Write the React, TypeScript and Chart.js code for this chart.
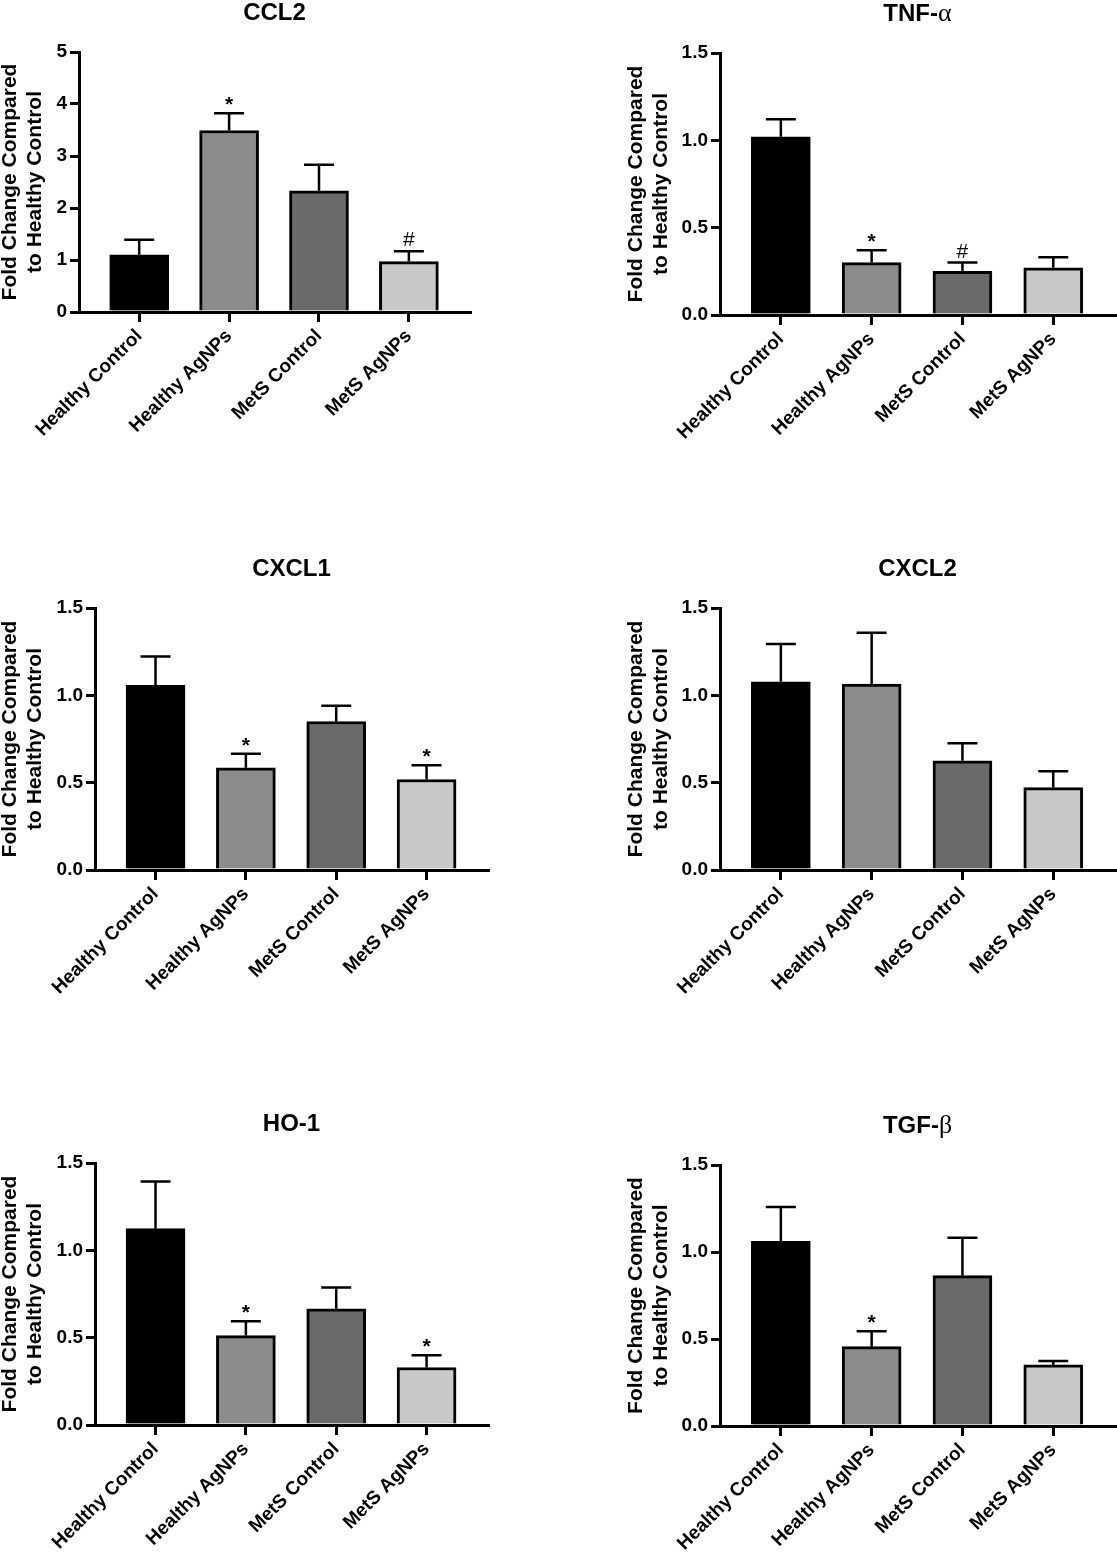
import React, { useEffect, useRef } from 'react';
import { Chart, registerables } from 'chart.js';

Chart.register(...registerables);

// ---------- data ----------
const categories = ['Healthy Control', 'Healthy AgNPs', 'MetS Control', 'MetS AgNPs'];
const barColors = ['#000000', '#8c8c8c', '#6a6a6a', '#c8c8c8'];
const yAxisTitle = ['Fold Change Compared', 'to Healthy Control'];

const intTicks = [0, 1, 2, 3, 4, 5];
const intTickLabels = ['0', '1', '2', '3', '4', '5'];
const fracTicks = [0, 0.5, 1.0, 1.5];
const fracTickLabels = ['0.0', '0.5', '1.0', '1.5'];

const ccl2Mean = [1.1, 3.49, 2.33, 0.97];
const ccl2Sem = [0.29, 0.33, 0.5, 0.2];
const ccl2Marks = ['', '*', '', '#'];

const tnfMean = [1.02, 0.3, 0.25, 0.27];
const tnfSem = [0.1, 0.07, 0.05, 0.06];
const tnfMarks = ['', '*', '#', ''];

const cxcl1Mean = [1.057, 0.585, 0.85, 0.518];
const cxcl1Sem = [0.165, 0.08, 0.09, 0.082];
const cxcl1Marks = ['', '*', '', '*'];

const cxcl2Mean = [1.078, 1.064, 0.625, 0.472];
const cxcl2Sem = [0.216, 0.295, 0.1, 0.094];
const cxcl2Marks = ['', '', '', ''];

const ho1Mean = [1.124, 0.512, 0.665, 0.329];
const ho1Sem = [0.27, 0.082, 0.122, 0.071];
const ho1Marks = ['', '*', '', '*'];

const tgfMean = [1.061, 0.456, 0.864, 0.351];
const tgfSem = [0.198, 0.088, 0.218, 0.023];
const tgfMarks = ['', '*', '', ''];

// ---------- layout (page coordinates) ----------
type Box = {
  left: number; top: number; width: number; height: number;
  plotLeft: number; plotRight: number; plotTop: number; plotBottom: number;
};

type Panel = {
  title: string; mean: number[]; sem: number[]; marks: string[];
  ticks: number[]; tickLabels: string[]; box: Box;
};

const panels: Panel[] = [
  { title: 'CCL2', mean: ccl2Mean, sem: ccl2Sem, marks: ccl2Marks, ticks: intTicks, tickLabels: intTickLabels,
    box: { left: -3, top: 0, width: 500, height: 470, plotLeft: 79, plotRight: 470, plotTop: 52, plotBottom: 312 } },
  { title: 'TNF-α', mean: tnfMean, sem: tnfSem, marks: tnfMarks, ticks: fracTicks, tickLabels: fracTickLabels,
    box: { left: 623, top: 0, width: 494, height: 470, plotLeft: 720, plotRight: 1115, plotTop: 53, plotBottom: 315 } },
  { title: 'CXCL1', mean: cxcl1Mean, sem: cxcl1Sem, marks: cxcl1Marks, ticks: fracTicks, tickLabels: fracTickLabels,
    box: { left: -3, top: 540, width: 500, height: 480, plotLeft: 95, plotRight: 488, plotTop: 608, plotBottom: 870 } },
  { title: 'CXCL2', mean: cxcl2Mean, sem: cxcl2Sem, marks: cxcl2Marks, ticks: fracTicks, tickLabels: fracTickLabels,
    box: { left: 623, top: 540, width: 494, height: 480, plotLeft: 720, plotRight: 1115, plotTop: 608, plotBottom: 870 } },
  { title: 'HO-1', mean: ho1Mean, sem: ho1Sem, marks: ho1Marks, ticks: fracTicks, tickLabels: fracTickLabels,
    box: { left: -3, top: 1090, width: 500, height: 469, plotLeft: 95, plotRight: 488, plotTop: 1163, plotBottom: 1425 } },
  { title: 'TGF-β', mean: tgfMean, sem: tgfSem, marks: tgfMarks, ticks: fracTicks, tickLabels: fracTickLabels,
    box: { left: 623, top: 1090, width: 494, height: 469, plotLeft: 720, plotRight: 1115, plotTop: 1165, plotBottom: 1426 } },
];

const FONT = '"Liberation Sans", Arial, sans-serif';

function drawMixedTitle(ctx: CanvasRenderingContext2D, text: string, cx: number, cy: number) {
  const sans = `bold 24px ${FONT}`;
  const greek = `26px "Liberation Serif", serif`;
  const runs: { t: string; f: string }[] = [];
  for (const ch of text) {
    const f = /[\u0370-\u03FF]/.test(ch) ? greek : sans;
    if (runs.length && runs[runs.length - 1].f === f) runs[runs.length - 1].t += ch;
    else runs.push({ t: ch, f });
  }
  let total = 0;
  const widths = runs.map((r) => { ctx.font = r.f; const w = ctx.measureText(r.t).width; total += w; return w; });
  let x = cx - total / 2;
  ctx.fillStyle = '#000';
  ctx.textAlign = 'left';
  ctx.textBaseline = 'alphabetic';
  runs.forEach((r, i) => {
    ctx.font = r.f;
    ctx.fillText(r.t, x, cy + 8.5);
    x += widths[i];
  });
}

function PanelChart({ panel }: { panel: Panel }) {
  const ref = useRef<HTMLCanvasElement | null>(null);
  useEffect(() => {
    if (!ref.current) return;
    const b = panel.box;
    const yWidth = b.plotLeft - b.left;
    const xHeight = b.top + b.height - b.plotBottom;
    const padTop = b.plotTop - b.top;
    const padRight = b.left + b.width - b.plotRight;
    const yMax = panel.ticks[panel.ticks.length - 1];

    const overlay = {
      id: 'overlay',
      afterDatasetsDraw(chart: any) {
        const ctx = chart.ctx as CanvasRenderingContext2D;
        const meta = chart.getDatasetMeta(0);
        const yS = chart.scales.y;
        ctx.save();
        meta.data.forEach((el: any, i: number) => {
          const x = el.x;
          const yTop = el.y;
          const yCap = yS.getPixelForValue(panel.mean[i] + panel.sem[i]);
          ctx.strokeStyle = '#000';
          ctx.lineWidth = 2.5;
          ctx.lineCap = 'butt';
          ctx.beginPath();
          ctx.moveTo(x, yTop);
          ctx.lineTo(x, yCap);
          ctx.moveTo(x - 15, yCap);
          ctx.lineTo(x + 15, yCap);
          ctx.stroke();
          const m = panel.marks[i];
          if (m) {
            ctx.fillStyle = '#000';
            ctx.textAlign = 'center';
            ctx.textBaseline = 'alphabetic';
            if (m === '*') {
              ctx.font = `bold 21px ${FONT}`;
              ctx.fillText(m, x, yCap - 2);
            } else {
              ctx.font = `21px ${FONT}`;
              ctx.fillText(m, x, yCap - 5);
            }
          }
        });
        ctx.restore();
      },
      afterDraw(chart: any) {
        const ctx = chart.ctx as CanvasRenderingContext2D;
        const ca = chart.chartArea;
        ctx.save();
        drawMixedTitle(ctx, panel.title, (ca.left + ca.right) / 2, ca.top - 41);
        ctx.restore();
      },
    };

    const chart = new Chart(ref.current, {
      type: 'bar',
      data: {
        datasets: [
          {
            data: panel.mean.map((v, i) => ({ x: i, y: v })),
            backgroundColor: barColors,
            borderColor: '#000',
            borderWidth: 3,
            barThickness: 59,
          } as any,
        ],
      },
      options: {
        responsive: false,
        animation: false,
        devicePixelRatio: 1,
        layout: { padding: { top: padTop, right: padRight, left: 0, bottom: 0 } },
        plugins: { legend: { display: false }, tooltip: { enabled: false }, title: { display: false } },
        scales: {
          x: {
            type: 'linear',
            min: -0.67,
            max: 3.68,
            offset: false,
            z: 1,
            afterBuildTicks: (s: any) => { s.ticks = categories.map((_, i) => ({ value: i })); },
            afterFit: (s: any) => { s.height = xHeight; },
            ticks: {
              autoSkip: false,
              maxRotation: 45,
              minRotation: 45,
              padding: 3,
              color: '#000',
              font: { family: FONT, size: 19, weight: 'bold' },
              callback: (v: any) => categories[Math.round(Number(v))] ?? '',
            },
            grid: { drawOnChartArea: false, drawTicks: true, tickLength: 10, color: '#000', lineWidth: 3, offset: false },
            border: { display: true, color: '#000', width: 3 },
          } as any,
          y: {
            type: 'linear',
            min: 0,
            max: yMax,
            z: 1,
            afterBuildTicks: (s: any) => { s.ticks = panel.ticks.map((v) => ({ value: v })); },
            afterFit: (s: any) => { s.width = yWidth; },
            ticks: {
              padding: 3,
              color: '#000',
              font: { family: FONT, size: 19, weight: 'bold' },
              callback: (v: any) => panel.tickLabels[panel.ticks.indexOf(Number(v))] ?? '',
            },
            grid: { drawOnChartArea: false, drawTicks: true, tickLength: 9, color: '#000', lineWidth: 3 },
            border: { display: true, color: '#000', width: 3 },
            title: {
              display: true,
              text: yAxisTitle,
              color: '#000',
              font: { family: FONT, size: 21, weight: 'bold', lineHeight: 1.22 },
              padding: 0,
            },
          } as any,
        },
      },
      plugins: [overlay],
    });
    return () => chart.destroy();
  }, [panel]);

  const b = panel.box;
  return (
    <canvas
      ref={ref}
      width={b.width}
      height={b.height}
      style={{ position: 'absolute', left: b.left, top: b.top, width: b.width, height: b.height }}
    />
  );
}

export default function App() {
  return (
    <div style={{ position: 'absolute', left: 0, top: 0, width: 1117, height: 1559, background: '#fff', overflow: 'hidden' }}>
      {panels.map((p) => (
        <PanelChart key={p.title} panel={p} />
      ))}
    </div>
  );
}
